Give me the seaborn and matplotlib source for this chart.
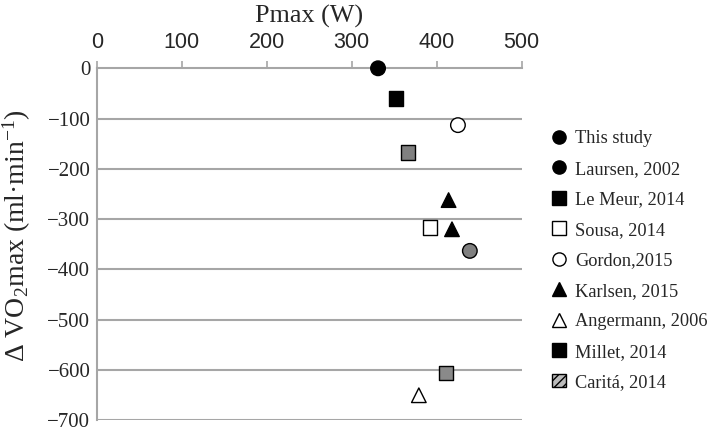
import matplotlib
matplotlib.use("Agg")
import matplotlib.pyplot as plt
from matplotlib.lines import Line2D
from matplotlib.patches import Patch
import seaborn as sns
import pandas as pd

# ---- data ----
studies = ["This study", "Laursen, 2002", "Le Meur, 2014", "Sousa, 2014", "Gordon,2015",
           "Karlsen, 2015", "Karlsen, 2015", "Angermann, 2006", "Millet, 2014", "Caritá, 2014"]
pmax = [331, 439, 352, 392, 425, 414, 418, 379, 366, 411]
dvo2 = [0, -363, -60, -316, -113, -262, -320, -650, -167, -606]

legend_order = ["This study", "Laursen, 2002", "Le Meur, 2014", "Sousa, 2014", "Gordon,2015",
                "Karlsen, 2015", "Angermann, 2006", "Millet, 2014", "Caritá, 2014"]
x_ticks = [0, 100, 200, 300, 400, 500]
y_ticks = [0, -100, -200, -300, -400, -500, -600, -700]

face = {"This study": "black", "Laursen, 2002": "#808080", "Le Meur, 2014": "black",
        "Sousa, 2014": "white", "Gordon,2015": "white", "Karlsen, 2015": "black",
        "Angermann, 2006": "white", "Millet, 2014": "#808080", "Caritá, 2014": "#8a8a8a"}
marks = {"This study": "o", "Laursen, 2002": "o", "Le Meur, 2014": "s", "Sousa, 2014": "s",
         "Gordon,2015": "o", "Karlsen, 2015": "^", "Angermann, 2006": "^",
         "Millet, 2014": "s", "Caritá, 2014": "s"}

df = pd.DataFrame({"study": studies, "pmax": pmax, "dvo2": dvo2})

sns.set_style("white")
plt.rcParams["font.family"] = ["Liberation Serif", "DejaVu Serif"]
plt.rcParams["mathtext.fontset"] = "custom"
plt.rcParams["mathtext.rm"] = "Liberation Serif"
plt.rcParams["mathtext.it"] = "Liberation Serif:italic"

fig = plt.figure(figsize=(7.09, 4.30), dpi=100)
ax = fig.add_axes([0.1364, 0.0223, 0.7358 - 0.1364, 0.8412 - 0.0223])

grid_c = "#a6a6a6"
for yv in y_ticks[1:]:
    ax.axhline(yv, color=grid_c, lw=1.5, zorder=0)

sns.scatterplot(data=df, x="pmax", y="dvo2", hue="study", style="study",
                palette=face, markers=marks, s=110, edgecolor="black",
                linewidth=1.0, legend=False, ax=ax, zorder=3, clip_on=False)

ax.set_xlim(0, 500)
ax.set_ylim(-700, 0)
ax.set_xticks(x_ticks)
ax.set_yticks(y_ticks)
ax.xaxis.tick_top()
ax.xaxis.set_label_position("top")
ax.tick_params(axis="x", length=5, width=1.2, color=grid_c, labelsize=15.5, pad=6)
for lab in ax.get_xticklabels():
    lab.set_fontfamily(["Liberation Sans", "DejaVu Sans"])
ax.tick_params(axis="y", length=0, labelsize=15, pad=4.5)
for s in ["right", "bottom"]:
    ax.spines[s].set_visible(False)
for s in ["top", "left"]:
    ax.spines[s].set_color(grid_c)
    ax.spines[s].set_linewidth(1.5)
ax.set_xlabel("Pmax (W)", fontsize=18.8, labelpad=7)
ax.set_ylabel(r"$\Delta$ VO$_2$max (ml·min$^{-1}$)", fontsize=20)
ax.yaxis.set_label_coords(-0.150, 0.524)

handles = []
for st in legend_order:
    if st == "Caritá, 2014":
        handles.append(Patch(facecolor="#bbbbbb", edgecolor="black", hatch="////", lw=1.0))
    else:
        fc = "black" if face[st] == "#808080" else face[st]
        handles.append(Line2D([], [], ls="", marker=marks[st], markersize=9.5,
                              markerfacecolor=fc, markeredgecolor="black",
                              markeredgewidth=1.0))
fig.legend(handles, legend_order, loc="upper left", bbox_to_anchor=(0.7786, 0.6975),
           frameon=False, fontsize=13.2, handlelength=0.75, handleheight=0.75,
           handletextpad=0.5, labelspacing=0.73, borderpad=0, borderaxespad=0)

fig.savefig("out.png", dpi=100)
